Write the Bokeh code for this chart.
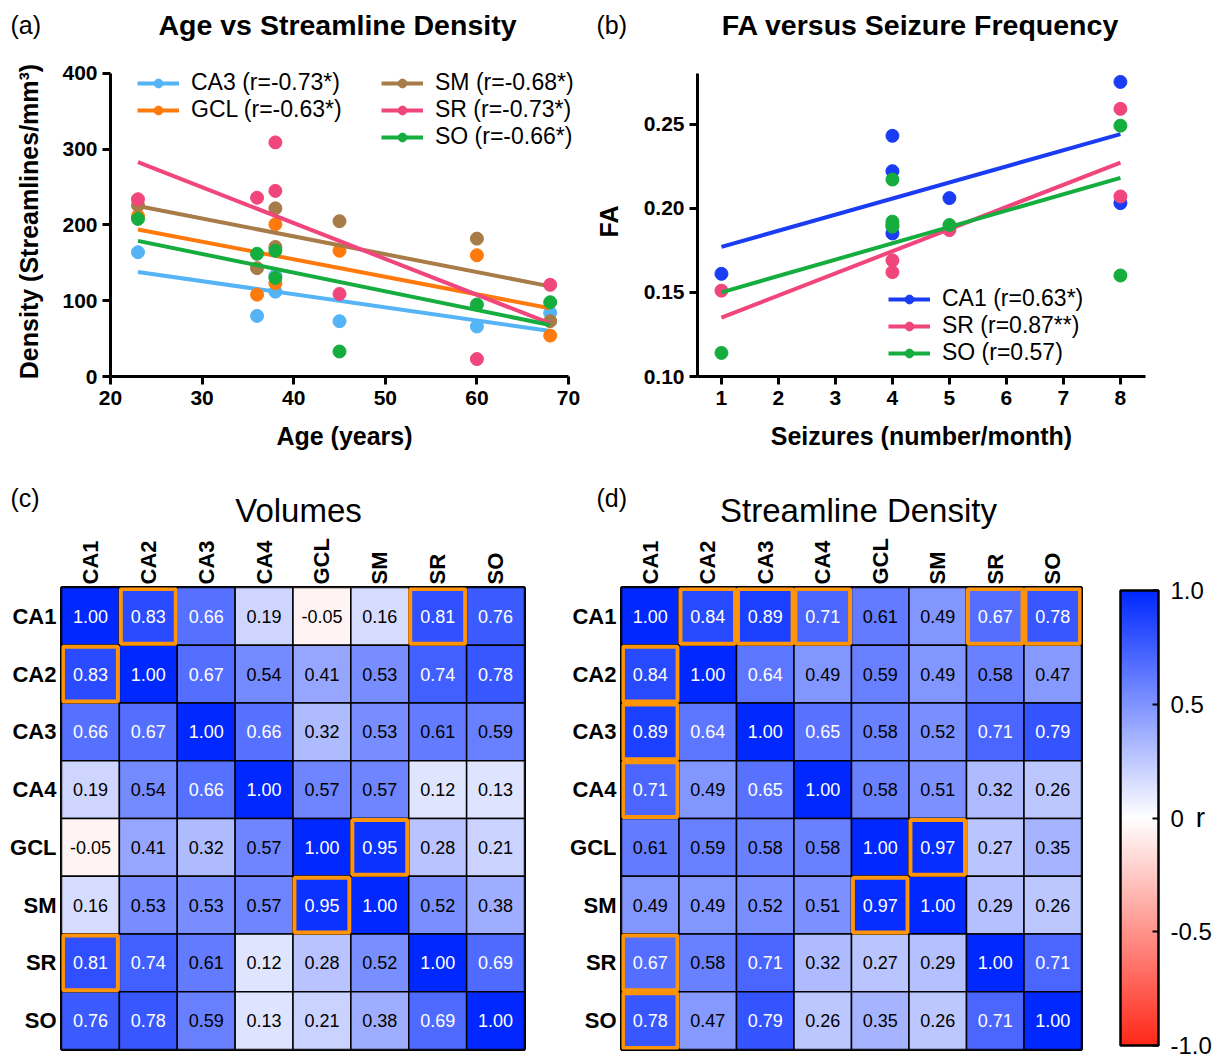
import math
from bokeh.plotting import figure
from bokeh.models import (Range1d, FactorRange, Legend, LegendItem, Label, ColorBar,
                          LinearColorMapper, FixedTicker, ColumnDataSource, NumeralTickFormatter)
from bokeh.layouts import column, row
from bokeh.embed import file_html
from bokeh.resources import INLINE
from bokeh.core.properties import value

FONT = "Liberation Sans"

# ---------------- Panel (a): Age vs Streamline Density ----------------
age = [23, 36, 38, 38, 45, 60, 68]
ca3_density = [164, 80, 133, 112, 73, 66, 84]
gcl_density = [212, 108, 201, 123, 166, 160, 54]
sm_density = [226, 143, 222, 171, 205, 182, 73]
sr_density = [234, 236, 309, 245, 109, 23, 121]
so_density = [208, 162, 166, 130, 33, 95, 98]
fit_age = [23, 68]
ca3_fit = [138, 60]
gcl_fit = [194, 90]
sm_fit = [225, 119]
sr_fit = [283, 70]
so_fit = [179, 68]
labels_a = ["CA3 (r=-0.73*)", "GCL (r=-0.63*)", "SM (r=-0.68*)", "SR (r=-0.73*)", "SO (r=-0.66*)"]

# ---------------- Panel (b): FA versus Seizure Frequency ----------------
seizures = [1, 4, 4, 4, 5, 8, 8]
ca1_fa = [0.161, 0.243, 0.222, 0.185, 0.206, 0.275, 0.203]
sr_fa = [0.151, 0.169, 0.162, 0.190, 0.187, 0.259, 0.207]
so_fa = [0.114, 0.217, 0.192, 0.189, 0.190, 0.249, 0.160]
fit_seizures = [1, 8]
ca1_fit_fa = [0.177, 0.244]
sr_fit_fa = [0.135, 0.227]
so_fit_fa = [0.150, 0.218]
labels_b = ["CA1 (r=0.63*)", "SR (r=0.87**)", "SO (r=0.57)"]

# ---------------- Panels (c), (d): correlation matrices ----------------
regions = ["CA1", "CA2", "CA3", "CA4", "GCL", "SM", "SR", "SO"]
volumes_r = [
    [1.00, 0.83, 0.66, 0.19, -0.05, 0.16, 0.81, 0.76],
    [0.83, 1.00, 0.67, 0.54, 0.41, 0.53, 0.74, 0.78],
    [0.66, 0.67, 1.00, 0.66, 0.32, 0.53, 0.61, 0.59],
    [0.19, 0.54, 0.66, 1.00, 0.57, 0.57, 0.12, 0.13],
    [-0.05, 0.41, 0.32, 0.57, 1.00, 0.95, 0.28, 0.21],
    [0.16, 0.53, 0.53, 0.57, 0.95, 1.00, 0.52, 0.38],
    [0.81, 0.74, 0.61, 0.12, 0.28, 0.52, 1.00, 0.69],
    [0.76, 0.78, 0.59, 0.13, 0.21, 0.38, 0.69, 1.00],
]
density_r = [
    [1.00, 0.84, 0.89, 0.71, 0.61, 0.49, 0.67, 0.78],
    [0.84, 1.00, 0.64, 0.49, 0.59, 0.49, 0.58, 0.47],
    [0.89, 0.64, 1.00, 0.65, 0.58, 0.52, 0.71, 0.79],
    [0.71, 0.49, 0.65, 1.00, 0.58, 0.51, 0.32, 0.26],
    [0.61, 0.59, 0.58, 0.58, 1.00, 0.97, 0.27, 0.35],
    [0.49, 0.49, 0.52, 0.51, 0.97, 1.00, 0.29, 0.26],
    [0.67, 0.58, 0.71, 0.32, 0.27, 0.29, 1.00, 0.71],
    [0.78, 0.47, 0.79, 0.26, 0.35, 0.26, 0.71, 1.00],
]
volumes_boxes = [("CA1", "CA2"), ("CA1", "SR"), ("CA2", "CA1"), ("GCL", "SM"),
                 ("SM", "GCL"), ("SR", "CA1")]
density_boxes = [("CA1", "CA2"), ("CA1", "CA3"), ("CA1", "CA4"), ("CA1", "SR"), ("CA1", "SO"),
                 ("CA2", "CA1"), ("CA3", "CA1"), ("CA4", "CA1"), ("SR", "CA1"), ("SO", "CA1"),
                 ("GCL", "SM"), ("SM", "GCL")]
colorbar_ticks = [-1, -0.5, 0, 0.5, 1]

C_CA3 = "#55b4f6"
C_GCL = "#ff7a0c"
C_SM = "#a87c48"
C_SR = "#f0467c"
C_SO = "#14ad3e"
C_CA1 = "#1a3cf2"
ORANGE = "#ff9408"


def style_xy(p):
    p.outline_line_color = None
    p.xgrid.visible = False
    p.ygrid.visible = False
    for ax in (p.xaxis[0], p.yaxis[0]):
        ax.axis_line_width = 3
        ax.axis_line_color = "black"
        ax.major_tick_line_width = 3
        ax.major_tick_line_color = "black"
        ax.major_tick_out = 8
        ax.major_tick_in = 0
        ax.minor_tick_line_color = None
        ax.major_label_text_font = FONT
        ax.major_label_text_font_style = "bold"
        ax.major_label_text_font_size = "21px"
        ax.major_label_text_color = "black"
        ax.axis_label_text_font = FONT
        ax.axis_label_text_font_style = "bold"
        ax.axis_label_text_font_size = "25px"
        ax.axis_label_text_color = "black"
    p.xaxis[0].major_label_standoff = 6
    p.yaxis[0].major_label_standoff = 5
    p.xaxis[0].axis_label_standoff = 14


def legend_for(p, items, loc):
    lg = Legend(items=items, location=loc, padding=0, margin=0, spacing=0,
                border_line_color=None, background_fill_alpha=0,
                glyph_width=42, glyph_height=22, label_height=22, label_standoff=12,
                label_text_font=FONT, label_text_font_size="23px", label_text_color="black")
    p.add_layout(lg)


def header(width, height):
    h = figure(width=width, height=height, x_range=Range1d(0, width), y_range=Range1d(height, 0),
               min_border=0, x_axis_type=None, y_axis_type=None, output_backend="svg",
               toolbar_location=None)
    h.outline_line_color = None
    h.grid.visible = False
    return h


def head_text(h, x, y, text, size, style="normal", align="left"):
    h.add_layout(Label(x=x, y=y, text=text, text_font=FONT, text_font_size=size,
                       text_font_style=style, text_align=align, text_baseline="middle",
                       text_color="black"))


# ---------------- top header ----------------
h1 = header(1222, 50)
head_text(h1, 10, 24, "(a)", "25px")
head_text(h1, 337, 24, "Age vs Streamline Density", "28.5px", "bold", "center")
head_text(h1, 596, 24, "(b)", "25px")
head_text(h1, 920, 24, "FA versus Seizure Frequency", "28.5px", "bold", "center")

# ---------------- (a) ----------------
pa = figure(frame_width=468, frame_height=310, min_border_left=110, min_border_right=12,
            min_border_top=16, min_border_bottom=94, output_backend="svg",
            toolbar_location=None, x_range=Range1d(20, 71.09), y_range=Range1d(0, 409.2))
style_xy(pa)
pa.xaxis.ticker = FixedTicker(ticks=[20, 30, 40, 50, 60, 70])
pa.yaxis.ticker = FixedTicker(ticks=[0, 100, 200, 300, 400])
pa.xaxis.bounds = (20, 70)
pa.yaxis.bounds = (0, 400)
pa.xaxis.axis_label = "Age (years)"
pa.yaxis.axis_label = "Density (Streamlines/mm\u00b3)"
pa.yaxis.axis_label_standoff = 16

items_a = []
for dens, fit, col, lab in [(ca3_density, ca3_fit, C_CA3, labels_a[0]),
                            (gcl_density, gcl_fit, C_GCL, labels_a[1]),
                            (sm_density, sm_fit, C_SM, labels_a[2]),
                            (sr_density, sr_fit, C_SR, labels_a[3]),
                            (so_density, so_fit, C_SO, labels_a[4])]:
    sc = pa.scatter(age, dens, size=13, color=col)
    ln = pa.line(fit_age, fit, line_color=col, line_width=4)
    items_a.append(LegendItem(label=lab, renderers=[ln, sc]))
legend_for(pa, items_a[:2], (27, 253))
legend_for(pa, items_a[2:], (271, 226))

# ---------------- (b) ----------------
pb = figure(frame_width=448, frame_height=310, min_border_left=107, min_border_right=77,
            min_border_top=16, min_border_bottom=94, output_backend="svg",
            toolbar_location=None, x_range=Range1d(0.58, 8.44), y_range=Range1d(0.10, 0.28417))
style_xy(pb)
pb.xaxis.ticker = FixedTicker(ticks=[1, 2, 3, 4, 5, 6, 7, 8])
pb.yaxis.ticker = FixedTicker(ticks=[0.10, 0.15, 0.20, 0.25])
pb.yaxis.bounds = (0.10, 0.28)
pb.yaxis.formatter = NumeralTickFormatter(format="0.00")
pb.xaxis.axis_label = "Seizures (number/month)"
pb.yaxis.axis_label = "FA"
pb.yaxis.axis_label_standoff = 18

items_b = []
for fa, fit, col, lab in [(ca1_fa, ca1_fit_fa, C_CA1, labels_b[0]),
                          (sr_fa, sr_fit_fa, C_SR, labels_b[1]),
                          (so_fa, so_fit_fa, C_SO, labels_b[2])]:
    sc = pb.scatter(seizures, fa, size=13, color=col)
    ln = pb.line(fit_seizures, fit, line_color=col, line_width=4)
    items_b.append(LegendItem(label=lab, renderers=[ln, sc]))
legend_for(pb, items_b, (191, 10))

# ---------------- bottom header ----------------
h2 = header(1222, 62)
head_text(h2, 10, 27, "(c)", "25px")
head_text(h2, 298, 40, "Volumes", "33px", "normal", "center")
head_text(h2, 596, 27, "(d)", "25px")
head_text(h2, 858, 40, "Streamline Density", "33px", "normal", "center")


# ---------------- heatmaps ----------------
def blend(v):
    if v >= 0:
        r0, g0, b0 = 0, 40, 255
    else:
        r0, g0, b0 = 255, 40, 25
    a = abs(v)
    r = round(255 + (r0 - 255) * a)
    g = round(255 + (g0 - 255) * a)
    b = round(255 + (b0 - 255) * a)
    return "#%02x%02x%02x" % (r, g, b)


palette = [blend(-1 + 2 * i / 255) for i in range(256)]
mapper = LinearColorMapper(palette=palette, low=-1, high=1)


def heatmap(matrix, boxes, fw, fh, top, bottom, right):
    p = figure(frame_width=fw, frame_height=fh, min_border_left=61, min_border_right=right,
               min_border_top=top, min_border_bottom=bottom, output_backend="svg",
               toolbar_location=None, x_range=FactorRange(*regions),
               y_range=FactorRange(*reversed(regions)), x_axis_location="above")
    p.xgrid.visible = False
    p.ygrid.visible = False
    p.outline_line_color = "black"
    p.outline_line_width = 3
    xs, ys, vs, txt, tc = [], [], [], [], []
    for i, rname in enumerate(regions):
        for j, cname in enumerate(regions):
            v = matrix[i][j]
            xs.append(cname)
            ys.append(rname)
            vs.append(v)
            txt.append("%.2f" % v)
            tc.append("white" if v >= 0.62 else "black")
    src = ColumnDataSource(dict(x=xs, y=ys, v=vs, txt=txt, tc=tc))
    p.rect(x="x", y="y", width=1, height=1, source=src,
           fill_color={"field": "v", "transform": mapper}, line_color="black", line_width=1.5)
    p.text(x="x", y="y", text="txt", text_color="tc", source=src, text_font=value(FONT),
           text_font_size="18px", text_align="center", text_baseline="middle")
    p.rect(x=[b[1] for b in boxes], y=[b[0] for b in boxes], width=0.95, height=0.95,
           fill_color=None, line_color=ORANGE, line_width=4)
    for ax in (p.xaxis[0], p.yaxis[0]):
        ax.axis_line_color = None
        ax.major_tick_line_color = None
        ax.minor_tick_line_color = None
        ax.major_tick_out = 0
        ax.major_tick_in = 0
        ax.major_label_text_font = FONT
        ax.major_label_text_font_style = "bold"
        ax.major_label_text_font_size = "22px"
        ax.major_label_text_color = "black"
    p.xaxis[0].major_label_standoff = 3
    p.yaxis[0].major_label_standoff = 5
    p.xaxis[0].major_label_orientation = math.pi / 2
    return p


pc = heatmap(volumes_r, volumes_boxes, 463, 462, 55, 2, 36)
pd = heatmap(density_r, density_boxes, 460, 462, 55, 2, 2)

# ---------------- colour bar ----------------
pcb = figure(frame_width=139, frame_height=469, x_range=Range1d(0, 139), y_range=Range1d(0, 469),
             min_border_left=0, min_border_right=0, min_border_top=55, min_border_bottom=2,
             x_axis_type=None, y_axis_type=None, output_backend="svg", toolbar_location=None)
pcb.outline_line_color = None
pcb.grid.visible = False
cb = ColorBar(color_mapper=mapper, ticker=FixedTicker(ticks=colorbar_ticks),
              major_label_overrides={1: "1.0", 0.5: "0.5", 0: "0", -0.5: "-0.5", -1: "-1.0"},
              location=(37, 11), width=38, height=455, padding=0, margin=0,
              bar_line_color="black", bar_line_width=2.5,
              major_tick_line_color="black", major_tick_line_width=2, major_tick_in=6,
              major_tick_out=0, minor_tick_line_color=None,
              major_label_text_font=FONT, major_label_text_font_size="24px",
              major_label_text_color="black", label_standoff=12,
              background_fill_alpha=0, border_line_color=None)
pcb.add_layout(cb)
pcb.add_layout(Label(x=117, y=239, text="r", text_font=FONT, text_font_size="28px",
                     text_align="center", text_baseline="middle", text_color="black"))

layout = column(h1, row(pa, pb), h2, row(pc, pd, pcb))
open("out.html", "w").write(file_html(layout, INLINE))
